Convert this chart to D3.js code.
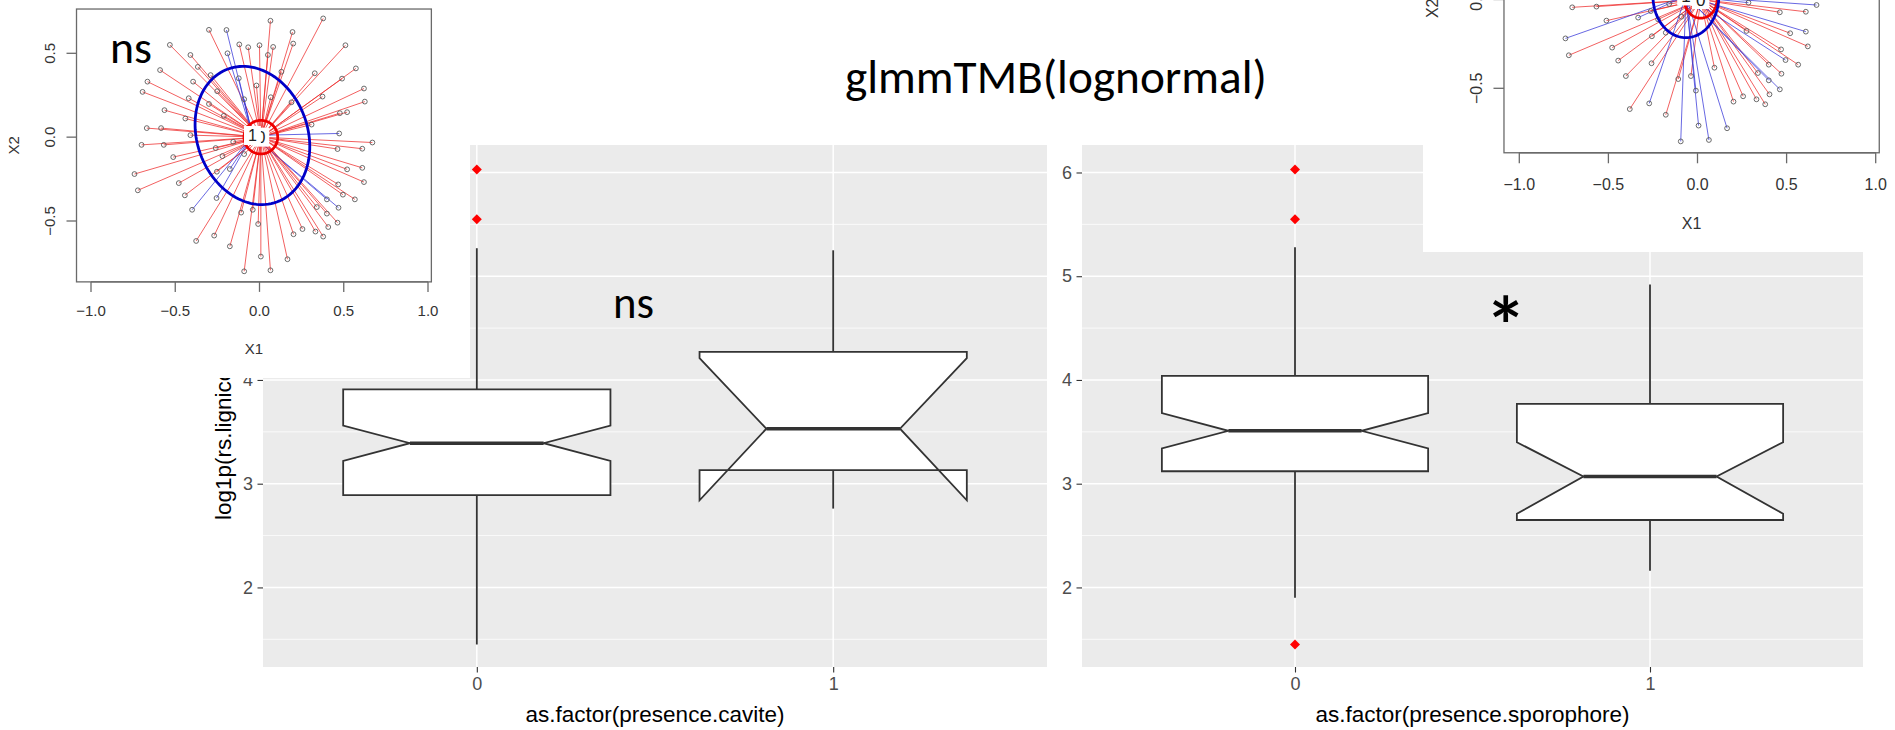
<!DOCTYPE html>
<html>
<head>
<meta charset="utf-8">
<script src="https://cdn.jsdelivr.net/npm/d3@7"></script>
<style>
  html, body { margin: 0; padding: 0; background: #ffffff; }
  svg { display: block; }
</style>
</head>
<body>
<svg id="chart" width="1895" height="730"></svg>
<script>
// ---------------- Box plot data: log1p(rs.lignicole) by factor level ----------------
const levels = ["0", "1"];
const yMajorTicks = [2, 3, 4, 5, 6];
const yMinorTicks = [1.5, 2.5, 3.5, 4.5, 5.5];

// as.factor(presence.cavite)
const caviteLower     = [1.45, 2.76];
const caviteQ1        = [2.89, 3.13];
const caviteMedian    = [3.39, 3.53];
const caviteQ3        = [3.91, 4.27];
const caviteUpper     = [5.27, 5.25];
const caviteNotchLow  = [3.22, 2.84];
const caviteNotchHigh = [3.56, 4.21];
const caviteOutlierLevel = ["0", "0"];
const caviteOutlierValue = [6.03, 5.55];

// as.factor(presence.sporophore)
const sporoLower     = [1.90, 2.16];
const sporoQ1        = [3.12, 2.65];
const sporoMedian    = [3.51, 3.07];
const sporoQ3        = [4.04, 3.77];
const sporoUpper     = [5.28, 4.92];
const sporoNotchLow  = [3.34, 2.71];
const sporoNotchHigh = [3.68, 3.40];
const sporoOutlierLevel = ["0", "0", "0"];
const sporoOutlierValue = [6.03, 5.55, 1.45];

// ---------------- Ordination scores (X1, X2) with class membership ----------------
const ordTicksX = [-1.0, -0.5, 0.0, 0.5, 1.0];
const ordTicksY = [-0.5, 0.0, 0.5];

// cavite ordination: group "0" (red), group "1" (blue)
const cavX = [-0.30,-0.196,0.065,0.378,-0.532,-0.12,0,-0.067,0.081,0.196,0.2,0.51,-0.41,-0.19,0.05,-0.366,-0.59,-0.29,-0.123,0.13,0.328,0.572,-0.665,-0.394,-0.251,-0.018,0.49,0.62,-0.694,-0.42,-0.091,0.067,0.374,0.625,-0.30,0.19,-0.564,-0.212,0.477,0.52,-0.44,0.309,-0.669,-0.584,-0.41,0.473,0.67,-0.70,-0.568,-0.156,-0.26,0.463,0.61,-0.512,-0.22,-0.091,-0.742,-0.253,-0.176,0.52,0.61,-0.479,0.467,0.62,-0.722,-0.443,-0.255,0.40,0.495,0.566,-0.40,-0.04,-0.109,0.34,0.40,0.469,-0.008,0.463,0.255,0.202,0.408,0.332,0.378,-0.376,-0.269,-0.176,0.008,0.166,-0.091,0.065];
const cavY = [0.64,0.639,0.694,0.708,0.55,0.553,0.548,0.536,0.538,0.627,0.558,0.548,0.49,0.5,0.49,0.419,0.40,0.37,0.351,0.39,0.381,0.41,0.331,0.331,0.274,0.308,0.349,0.29,0.27,0.232,0.226,0.238,0.242,0.212,0.198,0.208,0.161,0.127,0.143,0.149,0.111,0.075,0.054,0.054,0.012,0.022,-0.032,-0.046,-0.046,-0.028,-0.065,-0.071,-0.069,-0.119,-0.113,-0.101,-0.22,-0.206,-0.19,-0.192,-0.183,-0.274,-0.282,-0.268,-0.317,-0.347,-0.363,-0.371,-0.343,-0.371,-0.433,-0.433,-0.45,-0.417,-0.456,-0.421,-0.518,-0.51,-0.548,-0.579,-0.536,-0.563,-0.593,-0.619,-0.587,-0.651,-0.712,-0.728,-0.80,-0.794];
const cavGroup = ["0","1","0","0","0","0","0","0","0","0","0","0","0","1","0","0","0","0","1","0","0","0","0","0","0","0","0","0","0","0","1","0","0","0","0","0","0","0","0","0","0","0","0","0","0","1","0","0","0","0","0","0","0","0","0","0","0","0","1","0","0","0","0","0","0","0","1","1","0","0","1","0","0","0","0","1","0","0","0","0","0","0","0","0","0","0","0","0","0","0"];
// class centroids and ellipses: [group "0", group "1"]
const cavCentreX = [0.008, -0.042];
const cavCentreY = [0.0, 0.010];
const cavEllipseA = [0.100, 0.422];   // semi-axis along the rotated vertical
const cavEllipseB = [0.100, 0.328];   // perpendicular semi-axis
const cavEllipseAngle = [0, 20];      // degrees

// sporophore ordination
const spoX = [-0.703,-0.567,-0.511,-0.333,-0.262,-0.221,-0.159,-0.741,-0.722,-0.479,-0.445,-0.256,-0.178,-0.402,-0.258,-0.380,-0.271,-0.178,-0.108,-0.037,-0.009,0.006,-0.094,0.064,0.166,0.095,0.202,0.256,0.331,0.380,0.404,0.339,0.400,0.462,0.400,0.471,0.494,0.469,0.565,0.619,0.520,0.608,0.275,0.462,0.608,0.668,0.286,-0.090];
const spoY = [-0.044,-0.040,-0.119,-0.102,-0.065,-0.112,-0.025,-0.219,-0.314,-0.271,-0.344,-0.207,-0.187,-0.431,-0.359,-0.617,-0.585,-0.649,-0.448,-0.431,-0.513,-0.710,-0.799,-0.791,-0.725,-0.384,-0.575,-0.545,-0.562,-0.590,-0.534,-0.414,-0.455,-0.506,-0.367,-0.418,-0.341,-0.281,-0.367,-0.264,-0.190,-0.181,-0.177,-0.072,-0.069,-0.031,-0.018,-0.097];
const spoGroup = ["0","0","0","1","0","0","0","1","0","0","0","0","0","0","0","0","1","0","0","0","1","1","1","1","1","0","0","0","0","0","0","0","1","1","0","0","1","0","0","0","0","1","0","0","0","1","1","0"];
const spoCentreX = [0.018, -0.065];
const spoCentreY = [0.0, 0.020];
const spoEllipseA = [0.105, 0.235];
const spoEllipseB = [0.092, 0.185];
const spoEllipseAngle = [0, 0];

// ---------------- Drawing ----------------
const svg = d3.select("#chart");
const SANS = "'Liberation Sans', Arial, sans-serif";
const NOTE = "Carlito, Calibri, Lato, 'Open Sans', sans-serif";

const GREY_BG = "#EBEBEB";
const INK = "#333333";

// shared value axis for both box panels
const y = d3.scaleLinear().domain([1.233, 6.265]).range([667, 145]);

function boxPanel(opts) {
  const g = svg.append("g");
  const [x0, x1] = opts.xRange;
  const x = d3.scalePoint().domain(levels).range([x0, x1]).padding(0.6);
  const half = x.step() * 0.375;
  const [yBottom, yTop] = y.range();

  g.append("rect").attr("x", x0).attr("y", yTop)
    .attr("width", x1 - x0).attr("height", yBottom - yTop).attr("fill", GREY_BG);

  const grid = g.append("g");
  grid.selectAll(".minor").data(yMinorTicks.filter(v => y(v) > yTop && y(v) < yBottom))
    .join("line").attr("x1", x0).attr("x2", x1)
    .attr("y1", d => y(d)).attr("y2", d => y(d))
    .attr("stroke", "#fff").attr("stroke-width", 0.75);
  grid.selectAll(".major").data(yMajorTicks)
    .join("line").attr("x1", x0).attr("x2", x1)
    .attr("y1", d => y(d)).attr("y2", d => y(d))
    .attr("stroke", "#fff").attr("stroke-width", 1.5);
  grid.selectAll(".vmajor").data(levels)
    .join("line").attr("x1", d => x(d)).attr("x2", d => x(d))
    .attr("y1", yTop).attr("y2", yBottom)
    .attr("stroke", "#fff").attr("stroke-width", 1.5);

  // y axis (ticks + labels)
  const yAxis = d3.axisLeft(y).tickValues(yMajorTicks).tickSize(5.5).tickPadding(4.5)
    .tickFormat(d3.format("d"));
  const ya = g.append("g").attr("transform", `translate(${x0},0)`).call(yAxis);
  ya.select(".domain").remove();
  ya.selectAll(".tick line").attr("stroke", INK).attr("stroke-width", 1.1);
  ya.selectAll(".tick text").attr("fill", "#4D4D4D").attr("font-size", 18)
    .attr("font-family", SANS);

  // x axis
  const xAxis = d3.axisBottom(x).tickSize(5.5).tickPadding(5);
  const xa = g.append("g").attr("transform", `translate(0,${yBottom})`).call(xAxis);
  xa.select(".domain").remove();
  xa.selectAll(".tick line").attr("stroke", INK).attr("stroke-width", 1.1);
  xa.selectAll(".tick text").attr("fill", "#4D4D4D").attr("font-size", 18)
    .attr("font-family", SANS);

  g.append("text").attr("x", (x0 + x1) / 2).attr("y", 722)
    .attr("text-anchor", "middle").attr("font-size", 22.5).attr("font-family", SANS)
    .attr("fill", "#000").text(opts.xTitle);

  // notched boxes
  const boxes = levels.map((lv, i) => ({
    lv, lower: opts.lower[i], q1: opts.q1[i], median: opts.median[i], q3: opts.q3[i],
    upper: opts.upper[i], nLow: opts.notchLow[i], nHigh: opts.notchHigh[i]
  }));
  const bg = g.append("g");
  boxes.forEach(b => {
    const cx = x(b.lv), xl = cx - half, xr = cx + half, nw = half * 0.5;
    bg.append("line").attr("x1", cx).attr("x2", cx)
      .attr("y1", y(b.q3)).attr("y2", y(b.upper))
      .attr("stroke", INK).attr("stroke-width", 1.8);
    bg.append("line").attr("x1", cx).attr("x2", cx)
      .attr("y1", y(b.q1)).attr("y2", y(b.lower))
      .attr("stroke", INK).attr("stroke-width", 1.8);
    const pts = [
      [xl, y(b.q3)], [xl, y(b.nHigh)], [xl + nw, y(b.median)], [xl, y(b.nLow)], [xl, y(b.q1)],
      [xr, y(b.q1)], [xr, y(b.nLow)], [xr - nw, y(b.median)], [xr, y(b.nHigh)], [xr, y(b.q3)]
    ];
    bg.append("path").attr("d", d3.line()(pts) + "Z")
      .attr("fill", "#fff").attr("stroke", INK).attr("stroke-width", 1.8)
      .attr("stroke-linejoin", "miter");
    bg.append("line").attr("x1", xl + nw).attr("x2", xr - nw)
      .attr("y1", y(b.median)).attr("y2", y(b.median))
      .attr("stroke", INK).attr("stroke-width", 3.4);
  });

  // outliers (filled red diamonds)
  const diamond = d3.symbol(d3.symbolSquare, 50);
  g.append("g").selectAll("path")
    .data(opts.outLevel.map((lv, i) => ({ lv, v: opts.outValue[i] })))
    .join("path").attr("d", diamond)
    .attr("transform", d => `translate(${x(d.lv)},${y(d.v)}) rotate(45)`)
    .attr("fill", "#FF0000");
  return g;
}

const leftPanel = boxPanel({
  xRange: [263, 1047], xTitle: "as.factor(presence.cavite)",
  lower: caviteLower, q1: caviteQ1, median: caviteMedian, q3: caviteQ3, upper: caviteUpper,
  notchLow: caviteNotchLow, notchHigh: caviteNotchHigh,
  outLevel: caviteOutlierLevel, outValue: caviteOutlierValue
});
leftPanel.append("text")
  .attr("transform", "translate(231,520) rotate(-90)")
  .attr("font-size", 22.5).attr("font-family", SANS).attr("fill", "#000")
  .text("log1p(rs.lignicole)");

boxPanel({
  xRange: [1082, 1863], xTitle: "as.factor(presence.sporophore)",
  lower: sporoLower, q1: sporoQ1, median: sporoMedian, q3: sporoQ3, upper: sporoUpper,
  notchLow: sporoNotchLow, notchHigh: sporoNotchHigh,
  outLevel: sporoOutlierLevel, outValue: sporoOutlierValue
});

// ---------------- Ordination insets ----------------
function ordination(opts) {
  const g = svg.append("g");
  g.append("rect").attr("x", opts.frame[0]).attr("y", opts.frame[1])
    .attr("width", opts.frame[2]).attr("height", opts.frame[3]).attr("fill", "#fff");

  const xs = d3.scaleLinear().domain([-1, 1]).range(opts.xPix);
  const ys = d3.scaleLinear().domain([-0.5, 0.5]).range(opts.yPix);
  const lim = { x0: -1.086, x1: 1.02, y0: -0.863, y1: 0.764 };
  const bx0 = xs(lim.x0), bx1 = xs(lim.x1), by0 = ys(lim.y1), by1 = ys(lim.y0);
  const AX = "#6a6a6a";

  const colour = { "0": "#EE2B2B", "1": "#3535D8" };
  const dark = { "0": "#EE0000", "1": "#0000C8" };

  // star segments from class centroid to each score
  const pts = opts.X.map((v, i) => ({ x: v, y: opts.Y[i], g: opts.G[i] }));
  const ci = { "0": 0, "1": 1 };
  g.append("g").selectAll("line").data(pts).join("line")
    .attr("x1", d => xs(opts.cx[ci[d.g]])).attr("y1", d => ys(opts.cy[ci[d.g]]))
    .attr("x2", d => xs(d.x)).attr("y2", d => ys(d.y))
    .attr("stroke", d => colour[d.g]).attr("stroke-opacity", 0.75).attr("stroke-width", 1);

  g.append("g").selectAll("circle").data(pts).join("circle")
    .attr("cx", d => xs(d.x)).attr("cy", d => ys(d.y)).attr("r", 2.4)
    .attr("fill", "none").attr("stroke", "#5a5a5a").attr("stroke-width", 0.9);

  // class ellipses
  ["0", "1"].forEach(k => {
    const i = ci[k];
    const th = opts.ang[i] * Math.PI / 180;
    const ring = d3.range(0, 361, 3).map(t => {
      const r = t * Math.PI / 180;
      const ex = opts.cx[i] + opts.a[i] * Math.cos(r) * (-Math.sin(th)) + opts.b[i] * Math.sin(r) * Math.cos(th);
      const ey = opts.cy[i] + opts.a[i] * Math.cos(r) * Math.cos(th) + opts.b[i] * Math.sin(r) * Math.sin(th);
      return [xs(ex), ys(ey)];
    });
    g.append("path").attr("d", d3.line()(ring)).attr("fill", "none")
      .attr("stroke", dark[k]).attr("stroke-width", 2.8);
  });

  // class labels in white boxes ("1" drawn last, over "0")
  ["0", "1"].forEach(k => {
    const i = ci[k];
    const lx = xs(opts.cx[i]), ly = ys(opts.cy[i]);
    const t = g.append("text").attr("x", lx).attr("y", ly).attr("dy", "0.36em")
      .attr("text-anchor", "middle").attr("font-family", SANS)
      .attr("font-size", opts.fs + 1).attr("fill", "#222").text(k);
    const w = t.node().getComputedTextLength();
    g.insert("rect", () => t.node())
      .attr("x", lx - w / 2 - 4).attr("y", ly - 9.5).attr("width", w + 8).attr("height", 19)
      .attr("fill", "#fff");
  });

  // frame
  g.append("rect").attr("x", bx0).attr("y", by0).attr("width", bx1 - bx0).attr("height", by1 - by0)
    .attr("fill", "none").attr("stroke", AX).attr("stroke-width", 1.3);

  // x axis
  const tl = opts.tick;
  g.append("line").attr("x1", xs(-1)).attr("x2", xs(1)).attr("y1", by1).attr("y2", by1)
    .attr("stroke", AX).attr("stroke-width", 1.3);
  g.append("g").selectAll("line").data(ordTicksX).join("line")
    .attr("x1", d => xs(d)).attr("x2", d => xs(d)).attr("y1", by1).attr("y2", by1 + tl)
    .attr("stroke", AX).attr("stroke-width", 1.3);
  g.append("g").selectAll("text").data(ordTicksX).join("text")
    .attr("x", d => xs(d)).attr("y", opts.xLabBase).attr("text-anchor", "middle")
    .attr("font-family", SANS).attr("font-size", opts.fs).attr("fill", "#333")
    .text(d3.format(".1f"));
  g.append("text").attr("x", (bx0 + bx1) / 2).attr("y", opts.xTitleBase).attr("text-anchor", "middle")
    .attr("font-family", SANS).attr("font-size", opts.fs).attr("fill", "#333").text("X1");

  // y axis
  g.append("g").selectAll("line").data(ordTicksY).join("line")
    .attr("x1", bx0 - tl).attr("x2", bx0).attr("y1", d => ys(d)).attr("y2", d => ys(d))
    .attr("stroke", AX).attr("stroke-width", 1.3);
  g.append("g").selectAll("text").data(ordTicksY).join("text")
    .attr("transform", d => `translate(${opts.yLabBase},${ys(d)}) rotate(-90)`)
    .attr("text-anchor", "middle").attr("font-family", SANS).attr("font-size", opts.fs)
    .attr("fill", "#333").text(d3.format(".1f"));
  g.append("text")
    .attr("transform", `translate(${opts.yTitleBase},${(by0 + by1) / 2}) rotate(-90)`)
    .attr("text-anchor", "middle").attr("font-family", SANS).attr("font-size", opts.fs)
    .attr("fill", "#333").text("X2");
  return g;
}

ordination({
  frame: [0, 0, 470, 378], xPix: [91, 428], yPix: [221, 53.3],
  X: cavX, Y: cavY, G: cavGroup, cx: cavCentreX, cy: cavCentreY,
  a: cavEllipseA, b: cavEllipseB, ang: cavEllipseAngle,
  fs: 15, tick: 10, xLabBase: 315.5, xTitleBase: 354, yLabBase: 55, yTitleBase: 18.5
});

ordination({
  frame: [1423, 0, 472, 252], xPix: [1519.3, 1875.7], yPix: [88.3, -89.3],
  X: spoX, Y: spoY, G: spoGroup, cx: spoCentreX, cy: spoCentreY,
  a: spoEllipseA, b: spoEllipseB, ang: spoEllipseAngle,
  fs: 16, tick: 10.5, xLabBase: 190, xTitleBase: 228.5, yLabBase: 1481.5, yTitleBase: 1438
});

// ---------------- Title and significance notes ----------------
function note(txt, left, baseline, width, weight) {
  const t = svg.append("text").attr("x", left).attr("y", baseline)
    .attr("font-family", NOTE).attr("font-size", 40).attr("font-weight", weight || 400)
    .attr("fill", "#000").text(txt);
  const w = t.node().getComputedTextLength();
  t.attr("font-size", 40 * width / w);
  return t;
}
note("glmmTMB(lognormal)", 845, 93, 422);
note("ns", 613, 317.5, 41);
note("ns", 110, 63, 42);

// asterisk sized and centred on its inked glyph
(function () {
  const ctx = document.createElement("canvas").getContext("2d");
  ctx.font = "700 100px Lato";
  const m = ctx.measureText("*");
  const inkW = m.actualBoundingBoxLeft + m.actualBoundingBoxRight;
  const fs = 100 * 26 / inkW;
  const s = fs / 100;
  const xAnchor = 1506 - (m.actualBoundingBoxRight - m.actualBoundingBoxLeft) / 2 * s;
  const yBase = 308.5 - (m.actualBoundingBoxDescent - m.actualBoundingBoxAscent) / 2 * s;
  svg.append("text").attr("x", xAnchor).attr("y", yBase)
    .attr("font-family", "Lato").attr("font-size", fs).attr("font-weight", 700)
    .attr("fill", "#000").text("*");
})();
</script>
</body>
</html>
